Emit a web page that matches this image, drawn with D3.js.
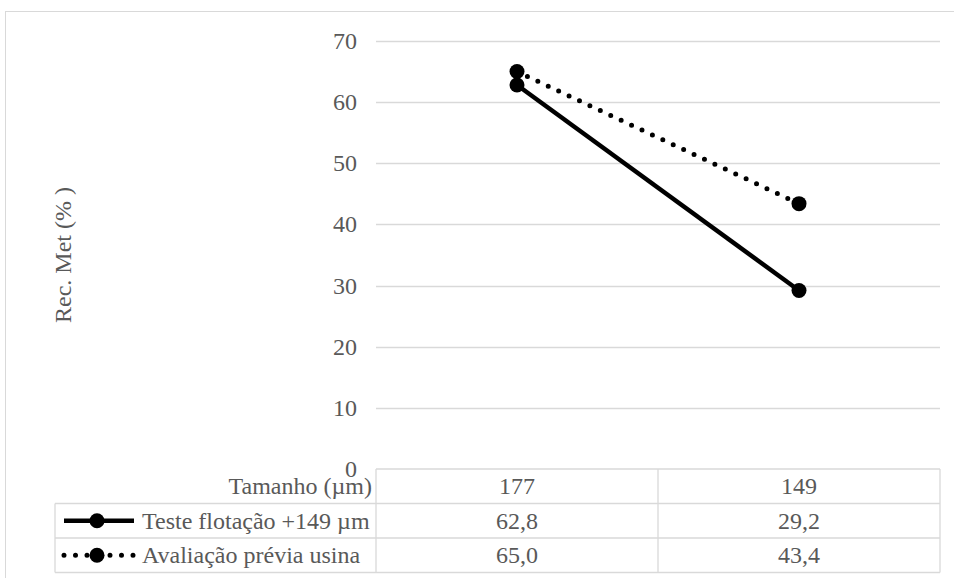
<!DOCTYPE html>
<html>
<head>
<meta charset="utf-8">
<script src="https://cdn.jsdelivr.net/npm/d3@7"></script>
</head>
<body style="margin:0">
<script>
// data
var categories = ["177", "149"];
var seriesNames = ["Teste flotação +149 µm", "Avaliação prévia usina"];
var teste = [62.8, 29.2];
var avaliacao = [65.0, 43.4];
var yTicks = [0, 10, 20, 30, 40, 50, 60, 70];

var w = 954, h = 578;
var fontSize = 24;
var textColor = '#595959';

var svg = d3.select('body').append('svg')
    .attr('width', w)
    .attr('height', h);

// style block inside the svg so the serif face travels with it
svg.append('style')
    .text('text { font-family: Liberation Serif, Tinos, Times New Roman, serif !important; }');

function label(sel) {
    return sel.attr('style', 'font-family: Liberation Serif, Tinos, serif; font-size: ' + fontSize + 'px; fill: ' + textColor);
}

// outer chart border
svg.append('rect')
    .attr('x', 5.5).attr('y', 11.5)
    .attr('width', 970).attr('height', 620)
    .attr('fill', 'none')
    .attr('stroke', '#d9d9d9');

var plotLeft = 376, plotRight = 940;
var x = d3.scaleBand().domain(categories).range([plotLeft, plotRight]);
var y = d3.scaleLinear().domain([0, 70]).range([469, 41]);

// gridlines
svg.append('g').selectAll('line')
    .data(yTicks.filter(d => d > 0))
    .enter().append('line')
    .attr('x1', plotLeft).attr('x2', plotRight)
    .attr('y1', d => Math.round(y(d)) + 0.5)
    .attr('y2', d => Math.round(y(d)) + 0.5)
    .attr('stroke', '#d9d9d9')
    .attr('stroke-width', 1.3);

// y tick labels
svg.append('g').selectAll('text')
    .data(yTicks)
    .enter().append('text')
    .attr('x', 357)
    .attr('y', d => y(d) + 8)
    .attr('text-anchor', 'end')
    .call(label)
    .text(d => d);

// y axis title
svg.append('text')
    .attr('transform', 'translate(71,255) rotate(-90)')
    .attr('text-anchor', 'middle')
    .call(label)
    .text('Rec. Met (% )');

// data table
var rowTop = 469, rowH = 34.5, legendLeft = 55;
var tableLines = svg.append('g').attr('stroke', '#d9d9d9').attr('stroke-width', 1.3);
tableLines.append('line').attr('x1', plotLeft).attr('x2', plotRight).attr('y1', rowTop).attr('y2', rowTop);
[1, 2, 3].forEach(function (i) {
    tableLines.append('line')
        .attr('x1', legendLeft).attr('x2', plotRight)
        .attr('y1', rowTop + i * rowH).attr('y2', rowTop + i * rowH);
});
tableLines.append('line').attr('x1', legendLeft).attr('x2', legendLeft).attr('y1', rowTop + rowH).attr('y2', rowTop + 3 * rowH);
[plotLeft, plotLeft + x.bandwidth(), plotRight].forEach(function (xx) {
    tableLines.append('line').attr('x1', xx).attr('x2', xx).attr('y1', rowTop).attr('y2', rowTop + 3 * rowH);
});

// header row
svg.append('text')
    .attr('x', 372).attr('y', rowTop + 25)
    .attr('text-anchor', 'end')
    .call(label)
    .text('Tamanho (µm)');
svg.append('g').selectAll('text')
    .data(categories)
    .enter().append('text')
    .attr('x', d => x(d) + x.bandwidth() / 2)
    .attr('y', rowTop + 25)
    .attr('text-anchor', 'middle')
    .call(label)
    .text(d => d);

var fmt = d => d3.format('.1f')(d).replace('.', ',');
var series = [
    { name: seriesNames[0], values: teste, dash: null },
    { name: seriesNames[1], values: avaliacao, dash: '0,11.5' }
];

series.forEach(function (s, i) {
    var ry = rowTop + (i + 1) * rowH;
    // legend key
    svg.append('line')
        .attr('x1', 64).attr('x2', 134)
        .attr('y1', ry + rowH / 2).attr('y2', ry + rowH / 2)
        .attr('stroke', '#000')
        .attr('stroke-width', s.dash ? 5 : 4.5)
        .attr('stroke-linecap', s.dash ? 'round' : 'butt')
        .attr('stroke-dasharray', s.dash);
    svg.append('circle')
        .attr('cx', 97).attr('cy', ry + rowH / 2)
        .attr('r', 7.5).attr('fill', '#000');
    svg.append('text')
        .attr('x', 142).attr('y', ry + 25)
        .call(label)
        .text(s.name);
    svg.append('g').selectAll('text')
        .data(s.values)
        .enter().append('text')
        .attr('x', (d, j) => x(categories[j]) + x.bandwidth() / 2)
        .attr('y', ry + 25)
        .attr('text-anchor', 'middle')
        .call(label)
        .text(fmt);
});

// lines and markers (dotted series first, solid on top)
var line = d3.line()
    .x((d, j) => x(categories[j]) + x.bandwidth() / 2)
    .y(d => y(d));

series.slice().reverse().forEach(function (s) {
    svg.append('path')
        .datum(s.values)
        .attr('d', line)
        .attr('fill', 'none')
        .attr('stroke', '#000')
        .attr('stroke-width', s.dash ? 5 : 4.5)
        .attr('stroke-linecap', s.dash ? 'round' : 'butt')
        .attr('stroke-dasharray', s.dash);
    svg.append('g').selectAll('circle')
        .data(s.values)
        .enter().append('circle')
        .attr('cx', (d, j) => x(categories[j]) + x.bandwidth() / 2)
        .attr('cy', d => y(d))
        .attr('r', 7.5)
        .attr('fill', '#000');
});
</script>
</body>
</html>
